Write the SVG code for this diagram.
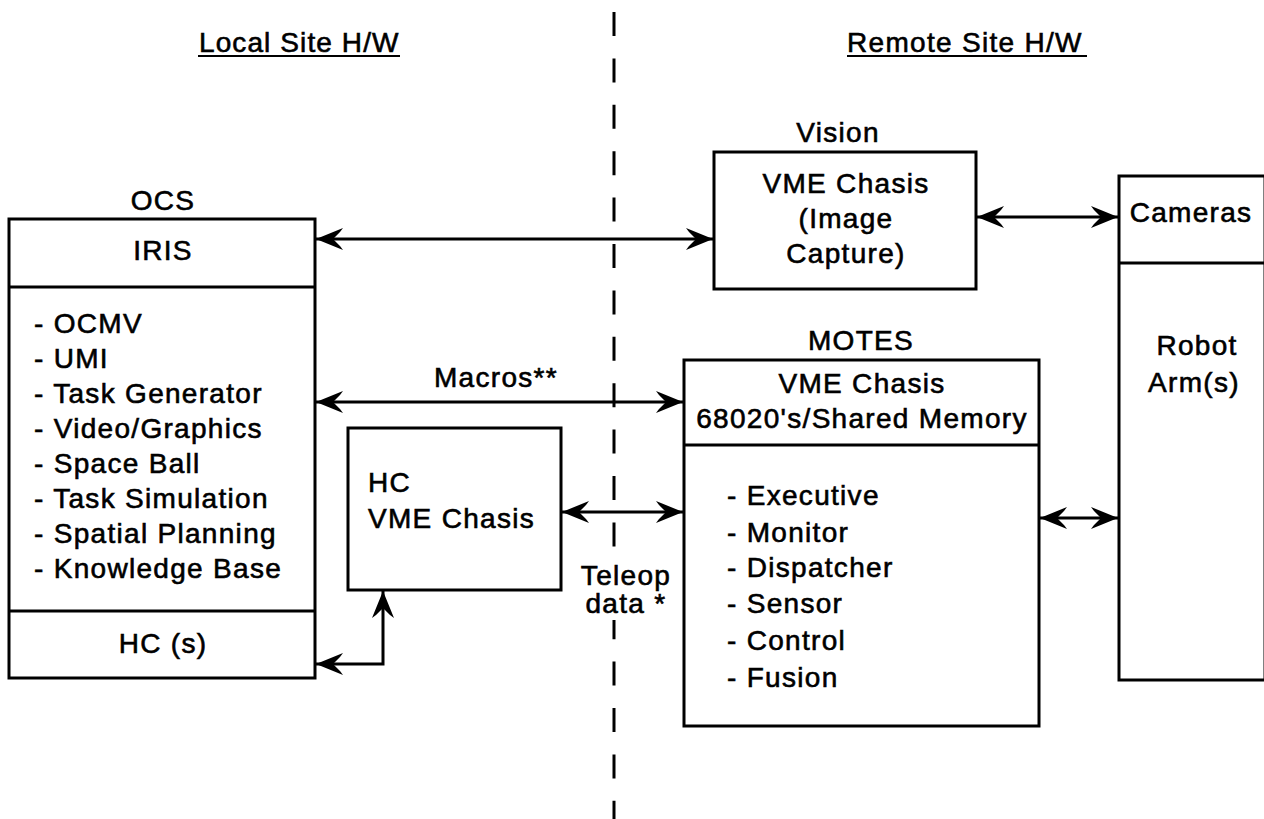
<svg xmlns="http://www.w3.org/2000/svg" width="1264" height="819" viewBox="0 0 1264 819">
<style>
text{font-family:"Liberation Sans",Arial,sans-serif;font-size:28px;letter-spacing:1.3px;fill:#000;stroke:#000;stroke-width:0.6}
.c{text-anchor:middle}
.box{fill:#fff;stroke:#000;stroke-width:3}
.ln{fill:none;stroke:#000;stroke-width:3}
.conn{fill:none;stroke:#000;stroke-width:3;marker-start:url(#ah);marker-end:url(#ah)}
.dash{fill:none;stroke:#000;stroke-width:3;stroke-dasharray:24 22.4}
</style>
<defs>
<marker id="ah" markerUnits="userSpaceOnUse" markerWidth="30" markerHeight="26" viewBox="-28 -13 30 26" refX="0" refY="0" orient="auto-start-reverse">
<path d="M0,0 L-27,-11 L-24,-7 L-17,0 L-24,7 L-27,11 Z" fill="#000"/>
</marker>
</defs>
<rect width="1264" height="819" fill="#fff"/>

<g id="titles">
<text x="199" y="52" style="letter-spacing:1.1px">Local Site H/W</text>
<line x1="198" y1="56" x2="400" y2="56" stroke="#000" stroke-width="2"/>
<text x="847" y="52">Remote Site H/W</text>
<line x1="847" y1="56" x2="1087" y2="56" stroke="#000" stroke-width="2"/>
</g>

<g id="divider">
<line class="dash" x1="614" y1="12" x2="614" y2="819"/>
</g>

<g id="ocs">
<text class="c" x="163" y="210">OCS</text>
<rect class="box" x="9" y="219" width="306" height="459"/>
<line class="ln" x1="9" y1="287" x2="315" y2="287"/>
<line class="ln" x1="9" y1="611" x2="315" y2="611"/>
<text class="c" x="163" y="260">IRIS</text>
<text x="34" y="333">- OCMV</text>
<text x="34" y="368">- UMI</text>
<text x="34" y="403">- Task Generator</text>
<text x="34" y="438">- Video/Graphics</text>
<text x="34" y="473">- Space Ball</text>
<text x="34" y="508">- Task Simulation</text>
<text x="34" y="543">- Spatial Planning</text>
<text x="34" y="578">- Knowledge Base</text>
<text class="c" x="163" y="653">HC (s)</text>
</g>

<g id="hc-vme">
<rect class="box" x="348" y="428" width="213" height="162"/>
<text x="368" y="492">HC</text>
<text x="368" y="528">VME Chasis</text>
</g>

<g id="vision">
<text class="c" x="838" y="142">Vision</text>
<rect class="box" x="714" y="152" width="262" height="137"/>
<text class="c" x="846" y="193">VME Chasis</text>
<text class="c" x="846" y="228">(Image</text>
<text class="c" x="846" y="263">Capture)</text>
</g>

<g id="motes">
<text class="c" x="861" y="350">MOTES</text>
<rect class="box" x="684" y="360" width="355" height="366"/>
<line class="ln" x1="684" y1="445" x2="1039" y2="445"/>
<text class="c" x="862" y="393">VME Chasis</text>
<text class="c" x="862" y="428">68020's/Shared Memory</text>
<text x="727" y="505">- Executive</text>
<text x="727" y="542">- Monitor</text>
<text x="727" y="577">- Dispatcher</text>
<text x="727" y="613">- Sensor</text>
<text x="727" y="650">- Control</text>
<text x="727" y="687">- Fusion</text>
</g>

<g id="robot">
<rect class="box" x="1119" y="176" width="146" height="504"/>
<line class="ln" x1="1119" y1="263" x2="1264" y2="263"/>
<text class="c" x="1191" y="222">Cameras</text>
<text class="c" x="1197" y="355">Robot</text>
<text class="c" x="1194" y="392">Arm(s)</text>
</g>

<g id="connectors">
<line class="conn" x1="316" y1="239" x2="713" y2="239"/>
<line class="conn" x1="977" y1="217" x2="1118" y2="217"/>
<line class="conn" x1="316" y1="402" x2="683" y2="402"/>
<text class="c" x="496" y="387">Macros**</text>
<line class="conn" x1="562" y1="512" x2="683" y2="512"/>
<rect x="576" y="560" width="100" height="60" fill="#fff"/>
<text class="c" x="626" y="585">Teleop</text>
<text class="c" x="626" y="613">data *</text>
<line class="conn" x1="1040" y1="518" x2="1118" y2="518"/>
<path class="conn" d="M316,664 L383,664 L383,591"/>
</g>
</svg>
